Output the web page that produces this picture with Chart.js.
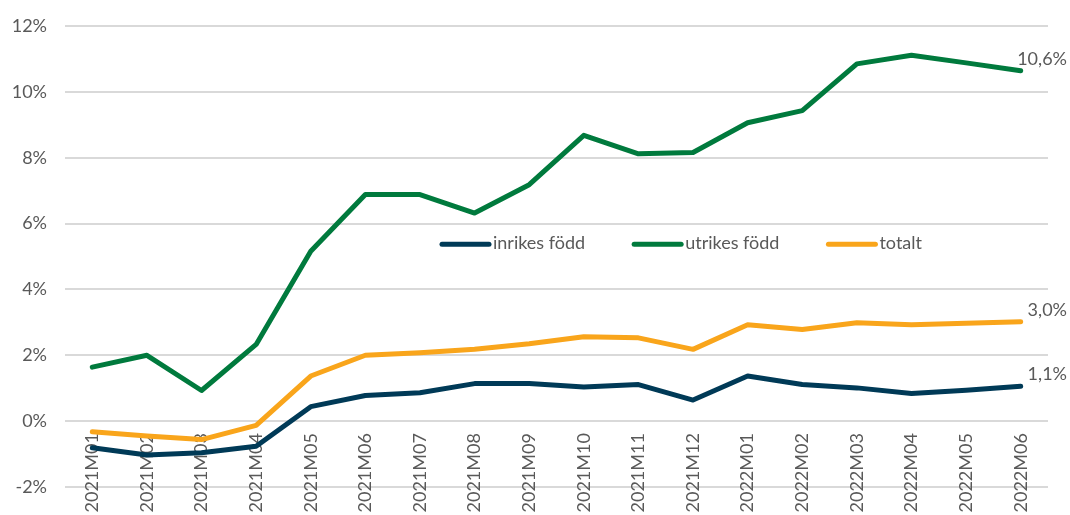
<!DOCTYPE html>
<html>
<head>
<meta charset="utf-8">
<script src="https://cdn.jsdelivr.net/npm/chart.js@4.4.1/dist/chart.umd.min.js"></script>
<style>
  html, body { margin: 0; padding: 0; background: #ffffff; }
  canvas { display: block; }
</style>
</head>
<body>
<canvas id="c" width="1070" height="515"></canvas>
<script>
const categories = ["2021M01","2021M02","2021M03","2021M04","2021M05","2021M06","2021M07","2021M08","2021M09","2021M10","2021M11","2021M12","2022M01","2022M02","2022M03","2022M04","2022M05","2022M06"];
const inrikesFodd = [-0.81,-1.03,-0.96,-0.76,0.44,0.78,0.86,1.14,1.14,1.04,1.11,0.64,1.37,1.11,1.01,0.84,0.94,1.06];
const utrikesFodd = [1.64,2.00,0.93,2.33,5.16,6.88,6.88,6.32,7.18,8.68,8.12,8.16,9.06,9.43,10.85,11.11,10.88,10.64];
const totalt = [-0.32,-0.45,-0.56,-0.13,1.37,2.00,2.08,2.18,2.35,2.56,2.53,2.18,2.93,2.78,2.99,2.93,2.97,3.02];
const seriesNames = ["inrikes född","utrikes född","totalt"];
const yTicks = [-2,0,2,4,6,8,10,12];

const FONT = "Lato, 'Open Sans', sans-serif";
const TEXT = "#595959";
const COLORS = ["#003a57","#007a3d","#f9a51b"];

const endLabels = {
  id: 'endLabels',
  afterDatasetsDraw(chart) {
    const ctx = chart.ctx;
    ctx.save();
    ctx.font = "18px " + FONT;
    ctx.fillStyle = TEXT;
    ctx.textAlign = 'right';
    ctx.textBaseline = 'middle';
    chart.data.datasets.forEach((ds, i) => {
      const meta = chart.getDatasetMeta(i);
      const n = ds.data.length - 1;
      const pt = meta.data[n];
      const txt = ds.data[n].toFixed(1).replace('.', ',') + '%';
      ctx.fillText(txt, chart.chartArea.right + 19, pt.y - 12);
    });
    ctx.restore();
  }
};

const innerLegend = {
  id: 'innerLegend',
  afterDatasetsDraw(chart) {
    const ctx = chart.ctx;
    ctx.save();
    ctx.font = "18px " + FONT;
    ctx.textBaseline = 'middle';
    ctx.textAlign = 'left';
    let x = chart.chartArea.left + 375;
    const y = chart.scales.y.getPixelForValue(5.4);
    chart.data.datasets.forEach(ds => {
      ctx.strokeStyle = ds.borderColor;
      ctx.lineWidth = 5;
      ctx.lineCap = 'round';
      ctx.beginPath();
      ctx.moveTo(x + 2, y + 1);
      ctx.lineTo(x + 49, y + 1);
      ctx.stroke();
      ctx.fillStyle = TEXT;
      ctx.fillText(ds.label, x + 53, y);
      x += 53 + ctx.measureText(ds.label).width + 47;
    });
    ctx.restore();
  }
};

const seriesData = [inrikesFodd, utrikesFodd, totalt];

new Chart(document.getElementById('c'), {
  type: 'line',
  data: {
    labels: categories,
    datasets: seriesData.map((d, i) => ({
      label: seriesNames[i],
      data: d,
      borderColor: COLORS[i],
      backgroundColor: COLORS[i],
      borderWidth: 5,
      pointRadius: 0,
      pointHoverRadius: 0,
      tension: 0,
      borderCapStyle: 'round',
      borderJoinStyle: 'round',
      fill: false
    }))
  },
  options: {
    responsive: false,
    animation: false,
    events: [],
    layout: { padding: { left: 0, right: 22, top: 26, bottom: 28 } },
    plugins: {
      legend: { display: false },
      tooltip: { enabled: false }
    },
    scales: {
      x: {
        type: 'category',
        offset: true,
        position: { y: 0 },
        grid: { display: false, drawTicks: false },
        border: { display: false },
        ticks: {
          autoSkip: false,
          maxRotation: 90,
          minRotation: 90,
          padding: 12,
          color: TEXT,
          font: { family: FONT, size: 18 }
        }
      },
      y: {
        min: -2,
        max: 12,
        afterFit(s) { s.width = 65; s.paddingTop = 0; s.paddingBottom = 0; },
        afterBuildTicks(s) { s.ticks = yTicks.map(v => ({ value: v })); },
        grid: { color: '#d9d9d9', lineWidth: 2, drawTicks: false },
        border: { display: false },
        ticks: {
          padding: 18,
          color: TEXT,
          font: { family: FONT, size: 18 },
          callback: v => v + '%'
        }
      }
    }
  },
  plugins: [endLabels, innerLegend]
});
</script>
</body>
</html>
